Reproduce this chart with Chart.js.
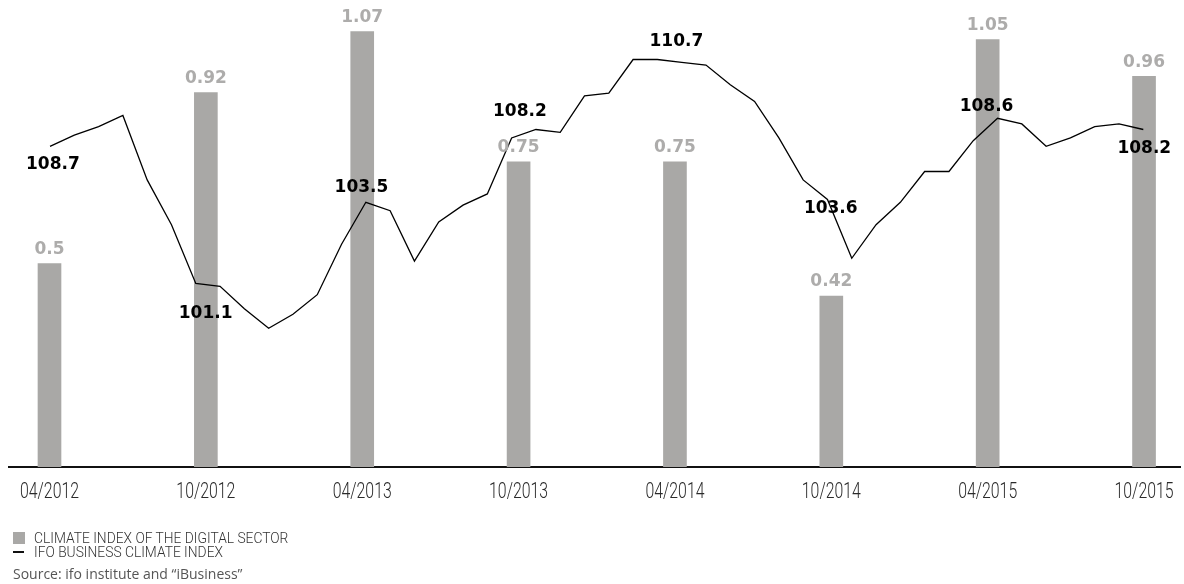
<!DOCTYPE html>
<html>
<head>
<meta charset="utf-8">
<script src="https://cdn.jsdelivr.net/npm/chart.js@4"></script>
<style>
  body { margin: 0; background: #fff; }
  #wrap { position: relative; width: 1184px; height: 584px; }
  .legend { position: absolute; left: 13px; white-space: nowrap; font-family: Roboto, sans-serif; font-weight: 300; font-size: 15px; color: #333; line-height: 14px; }
  .legend span.box { display: inline-block; width: 12px; height: 12px; background: #a9a8a6; vertical-align: -1px; margin-right: 9px; }
  .legend span.dash { display: inline-block; width: 11px; height: 2px; background: #111; vertical-align: 4px; margin-right: 10px; }
  .legend span.txt { display: inline-block; transform: scaleX(0.92); transform-origin: left center; }
  #source { position: absolute; left: 13px; top: 564px; font-family: "Open Sans", sans-serif; font-size: 14px; color: #555; }
</style>
</head>
<body>
<div id="wrap">
  <canvas id="chart" width="1184" height="584"></canvas>
  <div class="legend" style="top:531px"><span class="box"></span><span class="txt">CLIMATE INDEX OF THE DIGITAL SECTOR</span></div>
  <div class="legend" style="top:545px"><span class="dash"></span><span class="txt">IFO BUSINESS CLIMATE INDEX</span></div>
  <div id="source">Source: ifo institute and “iBusiness”</div>
</div>
<script>
// half-year steps on the axis, one bar each
const months = ["04/2012", "10/2012", "04/2013", "10/2013", "04/2014", "10/2014", "04/2015", "10/2015"];
const digitalIndex = [0.5, 0.92, 1.07, 0.75, 0.75, 0.42, 1.05, 0.96];

// monthly ifo readings over the same period
const ifoIndex = [
  107.6, 108.0, 108.3, 108.7, 106.4, 104.8, 102.7, 102.6, 101.8, 101.1,
  101.6, 102.3, 104.1, 105.6, 105.3, 103.5, 104.9, 105.5, 105.9, 107.9,
  108.2, 108.1, 109.4, 109.5, 110.7, 110.7, 110.6, 110.5, 109.8, 109.2,
  107.9, 106.4, 105.7, 103.6, 104.8, 105.6, 106.7, 106.7, 107.8, 108.6,
  108.4, 107.6, 107.9, 108.3, 108.4, 108.2
];
// readings that get a value label
const ifoLabelled = [3, 9, 15, 20, 25, 33, 39, 45];
// where each of those labels sits relative to its point
const ifoLabelOffsets = [[-70, 49], [-63, -15], [-53, -74], [-16, -18], [19, -18], [-21, -50], [-11, -12], [1, 19]];

const valueLabels = {
  id: "valueLabels",
  afterDatasetsDraw(chart) {
    const ctx = chart.ctx;
    ctx.save();
    ctx.textAlign = "center";
    ctx.textBaseline = "middle";
    ctx.font = "bold 17px 'DejaVu Sans', sans-serif";

    ctx.fillStyle = "#adacab";
    chart.getDatasetMeta(1).data.forEach((bar, i) => {
      ctx.fillText(String(digitalIndex[i]), bar.x, bar.y - 14);
    });

    ctx.fillStyle = "#000";
    const pts = chart.getDatasetMeta(0).data;
    ifoLabelled.forEach((idx, k) => {
      const p = pts[idx];
      const off = ifoLabelOffsets[k];
      ctx.fillText(ifoIndex[idx].toFixed(1), p.x + off[0], p.y + off[1]);
    });
    ctx.restore();
  },
  // narrow date labels under the axis
  afterDraw(chart) {
    const ctx = chart.ctx;
    const xs = chart.scales.x;
    ctx.save();
    ctx.textAlign = "center";
    ctx.textBaseline = "middle";
    ctx.fillStyle = "#2a2a2a";
    ctx.font = "300 22px Roboto, sans-serif";
    months.forEach((m, i) => {
      ctx.save();
      ctx.translate(xs.getPixelForValue(i), xs.bottom + 25);
      ctx.scale(0.72, 1);
      ctx.fillText(m, 0, 0);
      ctx.restore();
    });
    ctx.restore();
  }
};

new Chart(document.getElementById("chart"), {
  data: {
    datasets: [
      {
        type: "line",
        label: "IFO BUSINESS CLIMATE INDEX",
        data: ifoIndex.map((v, i) => ({ x: i, y: v })),
        xAxisID: "xl",
        yAxisID: "yl",
        borderColor: "#000",
        borderWidth: 1.3,
        pointRadius: 0,
        tension: 0
      },
      {
        type: "bar",
        label: "CLIMATE INDEX OF THE DIGITAL SECTOR",
        data: digitalIndex.map((v, i) => ({ x: i, y: v })),
        xAxisID: "x",
        yAxisID: "y",
        backgroundColor: "#a9a8a6",
        barThickness: 23,
        grouped: false
      }
    ]
  },
  options: {
    responsive: false,
    animation: false,
    layout: { padding: { left: 9, right: 4, top: 10, bottom: 117 } },
    plugins: { legend: { display: false }, tooltip: { enabled: false } },
    scales: {
      x: {
        type: "linear",
        offset: false,
        min: -0.259,
        max: 7.23,
        grid: { display: false, drawTicks: false },
        border: { display: true, color: "#111", width: 2 },
        ticks: { display: false }
      },
      xl: { type: "linear", display: false, offset: false, min: -1.6875, max: 46.51 },
      y: { display: false, min: 0, max: 1.1229 },
      yl: { display: false, min: 96.146, max: 112.468 }
    }
  },
  plugins: [valueLabels]
});
</script>
</body>
</html>
